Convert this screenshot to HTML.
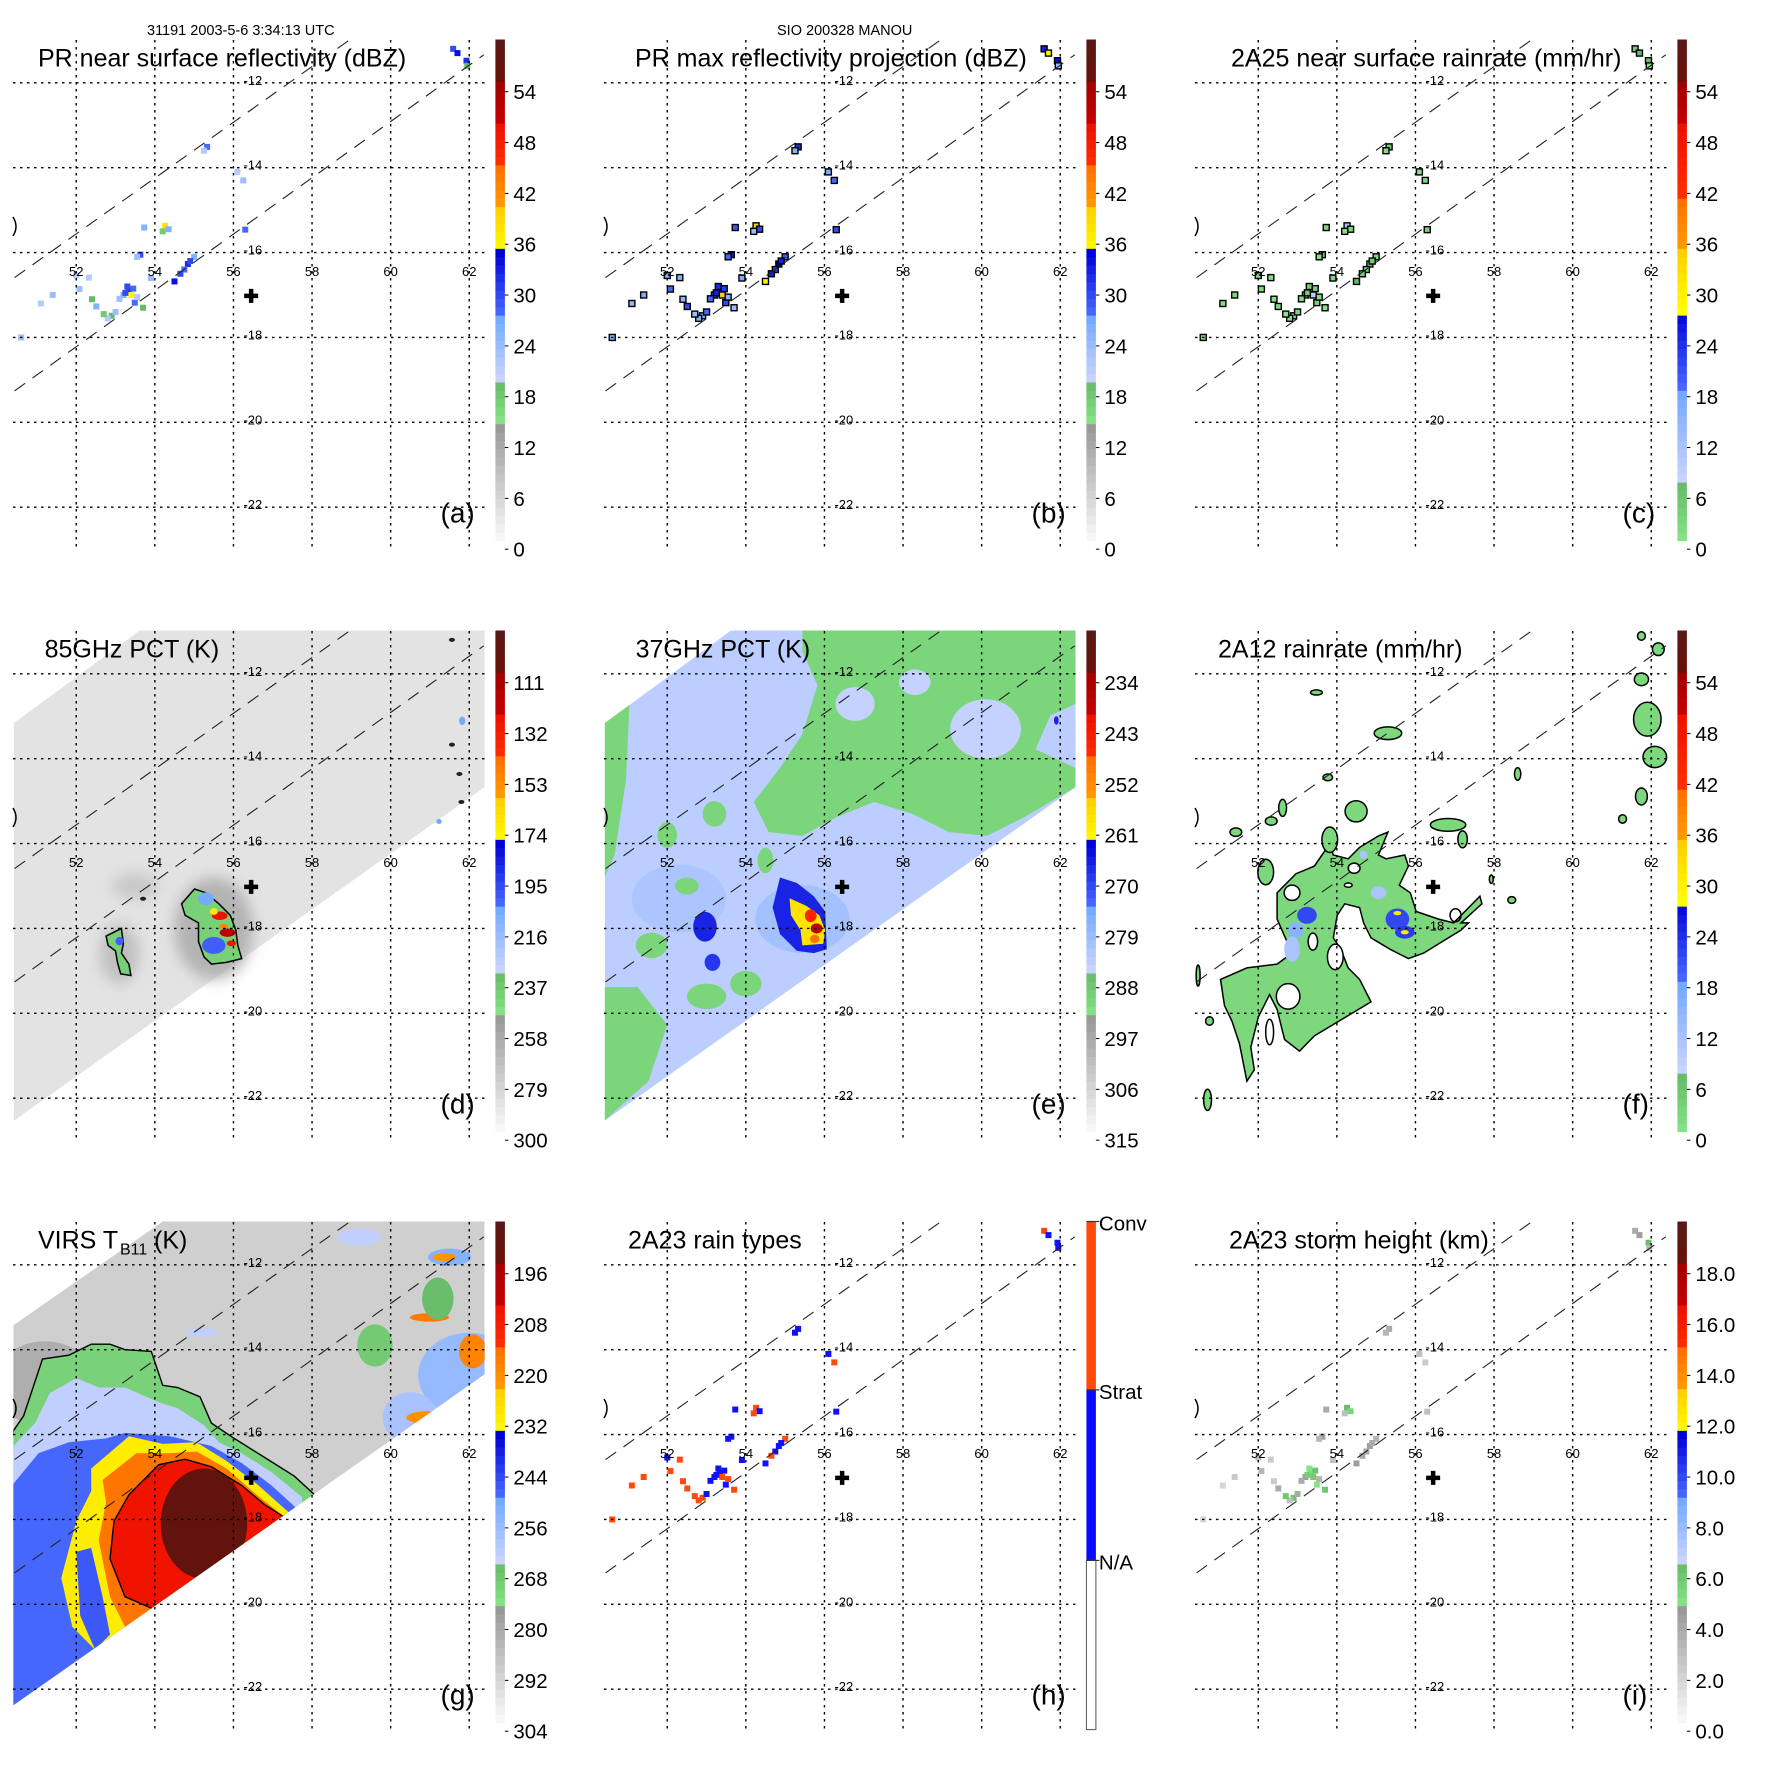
<!DOCTYPE html>
<html><head><meta charset="utf-8">
<style>
html,body{margin:0;padding:0;background:#fff}
svg{display:block}
text{font-family:"Liberation Sans",Arial,sans-serif;fill:#000}
</style></head>
<body>
<svg id="fig" width="1771" height="1771" viewBox="0 0 1771 1771" xmlns="http://www.w3.org/2000/svg">
<defs>
<filter id="blur6" x="-50%" y="-50%" width="200%" height="200%"><feGaussianBlur stdDeviation="7"/></filter>
</defs>
<rect x="0" y="0" width="1771" height="1771" fill="#fff"/>
<text x="147" y="35" font-size="14.5">31191 2003-5-6 3:34:13 UTC</text>
<text x="777" y="35" font-size="14.5">SIO 200328 MANOU</text>
</svg>
<script>
// ---------- axis data ----------
const lonTicks = [52, 54, 56, 58, 60, 62];
const latTicks = [-12, -14, -16, -18, -20, -22];
const cbDbz = ['0','6','12','18','24','30','36','42','48','54'];
const cb85 = ['300','279','258','237','216','195','174','153','132','111'];
const cb37 = ['315','306','297','288','279','270','261','252','243','234'];
const cbVirs = ['304','292','280','268','256','244','232','220','208','196'];
const cbRain = ['0','6','12','18','24','30','36','42','48','54'];
const cbHeight = ['0.0','2.0','4.0','6.0','8.0','10.0','12.0','14.0','16.0','18.0'];
const rainTypeLabels = ['Conv','Strat','N/A'];
const centerLon = 56.45, centerLat = -17.02;
const swathLine1 = [[50.43,-16.59],[58.97,-10.98]];
const swathLine2 = [[50.43,-19.26],[62.37,-11.34]];
// PR pixels
const prLon = [53.34,53.30,53.40,53.20,53.10,53.49,53.55,52.90,53.00,52.80,53.63,53.55,54.26,54.35,54.20,54.84,54.75,54.65,54.50,52.00,52.08,52.51,52.40,55.33,55.25,56.10,56.25,61.59,61.70,61.93,61.95,56.30,53.73,52.32,53.70,51.40,51.10,50.60,53.90,55.00,53.25,53.45,54.90,52.70];
const prLat = [-16.90,-16.80,-17.00,-17.00,-17.09,-17.18,-17.05,-17.49,-17.40,-17.55,-16.05,-16.10,-15.37,-15.45,-15.50,-16.27,-16.40,-16.50,-16.68,-16.54,-16.86,-17.27,-17.10,-13.51,-13.60,-14.10,-14.30,-11.20,-11.30,-11.48,-11.60,-15.46,-15.41,-16.59,-17.30,-17.00,-17.20,-18.00,-16.60,-16.10,-16.95,-16.85,-16.20,-17.45];
const prDbz = [32,30,36,26,24,28,22,20,24,22,30,24,38,26,18,32,28,30,34,22,24,26,20,28,22,22,24,30,34,32,20,28,26,22,20,24,22,24,24,26,30,28,30,18];
const prMax = [34,32,40,30,28,30,26,26,28,26,33,28,40,30,24,35,31,33,36,26,28,30,25,32,26,27,28,33,36,34,24,30,29,26,24,27,25,26,27,29,33,31,33,24];
const prRain = [6,5,10,3,2,4,2,1,3,2,5,2,12,3,1,6,4,5,8,2,3,3,1,4,2,2,3,5,8,6,1,4,3,2,1,3,2,3,3,3,5,4,5,1];
const prType = [2,2,1,2,2,2,1,1,2,1,2,2,1,2,1,2,2,1,2,2,1,1,1,2,2,2,1,1,2,2,2,2,2,1,1,1,1,1,2,1,2,2,2,1];
const prHeight = [5.5,5.0,6.0,4.5,4.0,5.0,3.5,6.2,4.0,3.0,4.5,3.5,6.5,5.5,3.0,4.5,4.0,4.0,4.5,3.0,3.5,4.0,2.5,4.0,3.5,3.0,2.5,4.0,4.5,6.5,3.5,3.0,4.0,2.5,6.1,2.5,2.0,2.0,3.0,3.5,5.8,6.2,4.0,6.1];
// 85 GHz PCT features
const tmi85Swath = [[50.41,-13.16],[53.62,-10.98],[62.39,-10.98],[62.39,-14.67],[50.41,-22.53]];
const tmi85Halo = [[55.5,-18.0,1.0,1.2,262],[53.1,-18.6,0.5,0.7,268],[53.5,-17.0,0.6,0.3,272]];
const tmi85Big = [[54.68,-17.42],[55.01,-17.07],[55.30,-17.16],[55.63,-17.42],[55.92,-17.69],[56.06,-18.04],[56.11,-18.40],[56.21,-18.71],[55.82,-18.80],[55.44,-18.84],[55.25,-18.67],[55.11,-18.31],[55.11,-17.87],[54.77,-17.69]];
const tmi85Small = [[52.76,-18.18],[53.15,-18.00],[53.20,-18.36],[53.15,-18.58],[53.34,-18.84],[53.39,-19.11],[53.13,-19.07],[53.05,-18.80],[53.00,-18.53],[52.81,-18.40]];
const tmi85Cells = [[55.3,-17.3,0.2,0.15,205],[55.5,-18.4,0.3,0.2,200],[55.65,-17.7,0.2,0.1,125],[55.85,-18.1,0.2,0.1,120],[55.5,-17.6,0.1,0.08,170],[55.75,-17.95,0.12,0.06,150],[55.95,-18.35,0.12,0.07,130],[53.1,-18.3,0.1,0.1,200],[61.82,-13.11,0.08,0.1,205],[61.23,-15.48,0.07,0.06,205]];
const tmi85Spots = [[61.56,-11.2],[61.56,-13.67],[61.75,-14.36],[61.8,-15.02],[53.7,-17.3]];
// 37 GHz PCT features
const tmi37Green = [[[55.44,-10.98],[62.39,-10.98],[62.39,-12.71],[61.75,-12.98],[61.37,-13.78],[62.39,-14.22],[62.39,-14.67],[61.08,-15.38],[60.13,-15.82],[59.17,-15.73],[58.21,-15.29],[57.26,-15.02],[56.30,-15.38],[55.44,-15.82],[54.58,-15.73],[54.20,-15.02],[54.87,-14.22],[55.44,-13.42],[55.82,-12.27],[55.44,-11.47]],
  [[50.40,-13.16],[51.04,-12.71],[50.95,-14.49],[50.66,-16.27],[50.40,-16.8]],
  [[50.40,-19.38],[51.24,-19.38],[52.0,-20.27],[51.52,-21.6],[50.40,-22.53]]];
const tmi37Patches = [[60.1,-13.3,0.9,0.7,284],[56.78,-12.71,0.5,0.4,284],[58.3,-12.2,0.4,0.3,284],[55.44,-17.78,1.2,0.8,280],[52.3,-17.3,1.2,0.8,281],[53.2,-15.3,0.3,0.3,290],[52.5,-17.0,0.3,0.2,290],[54.0,-19.3,0.4,0.3,290],[53.0,-19.6,0.5,0.3,290],[51.6,-18.4,0.4,0.3,290],[54.5,-16.4,0.2,0.3,290],[52.0,-15.8,0.25,0.3,290],[52.96,-17.96,0.3,0.35,266],[53.15,-18.8,0.2,0.2,268],[61.9,-13.1,0.06,0.1,266]];
const tmi37Core = [[54.87,-16.8],[55.30,-16.93],[55.73,-17.24],[56.02,-17.6],[56.06,-18.49],[55.73,-18.58],[55.30,-18.53],[54.87,-18.13],[54.68,-17.51]];
const tmi37Yellow = [[55.11,-17.29],[55.54,-17.47],[55.87,-17.69],[56.02,-18.04],[55.97,-18.36],[55.44,-18.4],[55.39,-18.04],[55.15,-17.69]];
const tmi37Hot = [[55.65,-17.7,0.15,0.15,245],[55.8,-18.0,0.15,0.12,238],[55.75,-18.25,0.12,0.1,248]];
// 2A12 rain
const rain12Main = [[51.04,-19.2],[51.71,-18.93],[52.48,-18.84],[52.86,-18.58],[52.48,-17.78],[52.48,-17.16],[52.96,-16.71],[53.43,-16.53],[53.82,-16.0],[53.91,-16.27],[54.29,-16.36],[54.58,-16.09],[55.06,-15.82],[55.30,-15.73],[55.06,-16.27],[55.25,-16.36],[55.73,-16.27],[55.82,-16.53],[55.59,-16.98],[55.87,-17.16],[56.02,-17.6],[56.59,-17.78],[56.97,-17.87],[57.64,-17.24],[57.69,-17.42],[57.16,-17.87],[57.35,-17.87],[57.16,-18.04],[56.68,-18.31],[56.21,-18.58],[55.82,-18.71],[55.35,-18.49],[54.87,-18.22],[54.68,-17.87],[54.58,-17.51],[54.2,-17.42],[54.01,-17.69],[53.91,-18.22],[54.1,-18.49],[54.29,-18.93],[54.58,-19.2],[54.87,-19.73],[53.43,-20.53],[53.05,-20.89],[52.67,-20.62],[52.48,-19.91],[52.29,-19.56],[52.0,-20.09],[51.81,-20.8],[51.9,-21.33],[51.71,-21.6],[51.52,-20.71],[51.33,-20.18],[51.14,-19.82]];
const rain12Holes = [[52.86,-17.16,0.2,0.18],[53.39,-18.31,0.12,0.2],[53.96,-18.67,0.2,0.3],[54.44,-16.58,0.15,0.12],[54.29,-16.98,0.1,0.05],[52.76,-19.6,0.3,0.3],[52.29,-20.44,0.1,0.3]];
const rain12Cells = [[53.24,-17.69,0.25,0.2,22],[52.96,-18.04,0.2,0.2,16],[52.86,-18.49,0.2,0.3,12],[55.54,-17.78,0.3,0.25,22],[55.73,-18.09,0.25,0.15,23],[55.06,-17.16,0.2,0.15,12],[54.68,-16.27,0.1,0.1,12],[55.54,-17.64,0.1,0.05,31],[55.73,-18.09,0.1,0.05,31],[61.9,-13.07,0.1,0.15,12]];
const rain12Blobs = [[55.30,-13.4,0.35,0.15],[54.49,-15.24,0.28,0.25],[53.82,-15.91,0.2,0.3],[52.19,-16.67,0.2,0.3],[56.83,-15.56,0.45,0.15],[57.2,-15.9,0.12,0.2],[61.9,-13.07,0.35,0.4],[61.75,-12.13,0.18,0.15],[61.75,-14.89,0.15,0.2],[62.09,-13.96,0.3,0.25],[62.18,-11.42,0.15,0.15],[61.75,-11.11,0.1,0.1],[58.45,-17.33,0.1,0.08],[57.93,-16.84,0.05,0.1],[52.62,-15.16,0.1,0.2],[52.33,-15.47,0.15,0.1],[53.77,-14.44,0.12,0.08],[58.6,-14.36,0.08,0.15],[61.27,-15.42,0.1,0.1],[50.47,-19.11,0.05,0.25],[50.76,-20.18,0.1,0.1],[50.71,-22.04,0.1,0.25],[53.48,-12.44,0.15,0.06],[51.43,-15.73,0.15,0.1]];
// VIRS features
const virsSwath = [[50.40,-13.42],[54.20,-10.98],[62.39,-10.98],[62.39,-14.58],[50.40,-22.38]];
const virsGreen = [[50.40,-15.91],[50.66,-15.56],[51.14,-14.22],[51.81,-14.13],[52.38,-13.87],[52.86,-13.87],[53.24,-14.0],[53.91,-14.04],[54.2,-14.84],[54.58,-14.89],[55.15,-15.11],[55.44,-15.73],[56.02,-16.09],[56.78,-16.53],[57.55,-16.98],[58.1,-17.45],[58.5,-25],[49,-25]];
const virsLightBlue = [[50.40,-16.27],[50.95,-15.73],[51.33,-15.02],[52.0,-14.67],[52.57,-14.89],[53.24,-14.89],[54.1,-15.24],[54.58,-15.38],[55.25,-15.78],[55.63,-16.18],[56.21,-16.44],[56.97,-16.89],[57.74,-17.47],[58.5,-25],[49,-25]];
const virsBlue = [[50.4,-17.16],[51.04,-16.44],[51.81,-16.18],[52.76,-16.09],[53.24,-15.96],[54.39,-16.04],[55.44,-16.27],[56.21,-16.67],[56.97,-17.2],[57.55,-17.69],[58.5,-25],[49,-25]];
const virsYellow = [[52.38,-16.8],[53.34,-16.04],[54.2,-16.22],[55.06,-16.18],[55.82,-16.62],[56.59,-17.16],[57.45,-17.87],[58,-25],[52.48,-25],[52.48,-21.07],[51.9,-20.53],[51.62,-19.38],[52.0,-18.04],[52.38,-17.33]];
const virsBlueStreak = [[52.0,-18.76],[52.38,-18.67],[52.67,-19.82],[52.86,-20.71],[52.48,-21.07],[52.1,-20.27]];
const virsOrange = [[52.67,-17.07],[53.53,-16.44],[54.39,-16.44],[55.06,-16.4],[55.82,-16.8],[56.59,-17.42],[57.26,-17.91],[58,-25],[53.24,-25],[53.24,-20.53],[52.86,-19.82],[52.57,-18.49],[52.76,-17.6]];
const virsRed = [[52.96,-18.04],[53.34,-17.42],[54.1,-16.71],[54.77,-16.58],[55.44,-16.76],[56.21,-17.2],[56.78,-17.64],[57.31,-17.96],[58,-25],[53.91,-25],[53.91,-20.09],[53.24,-19.82],[52.86,-18.93]];
const virsCore = [55.25,-18.1,1.1,1.3,190];
const virsPatches = [[51.2,-14.8,1.3,1.0,281],[62.0,-14.6,1.3,1.0,255],[60.5,-15.6,0.7,0.6,258],[62.09,-14.04,0.35,0.4,218],[60.99,-13.24,0.5,0.1,216],[61.5,-11.82,0.55,0.2,252],[61.37,-11.82,0.3,0.1,222],[60.9,-15.6,0.5,0.15,220],[59.6,-13.9,0.45,0.5,268],[59.2,-11.35,0.55,0.2,262],[55.2,-13.6,0.4,0.1,262],[51.5,-16.8,0.45,0.3,226],[61.2,-12.8,0.4,0.5,265]];

// ---------- palettes (styles) ----------
const palA = [[0,0.235,'#fbfbfb','#959595'],[0.235,0.322,'#86e486','#66b866'],[0.322,0.45,'#ccd4ff','#6fa8ff'],[0.45,0.575,'#4a6cff','#0000d8'],[0.575,0.661,'#ffff00','#ffd000'],[0.661,0.744,'#ffa000','#ff7000'],[0.744,0.829,'#ff3000','#ee1000'],[0.829,0.916,'#c80000','#a00000'],[0.916,1.01,'#6a1008','#551a18']];
const palC = [[0,0.119,'#86e486','#66b866'],[0.119,0.3,'#ccd4ff','#6fa8ff'],[0.3,0.458,'#4a6cff','#0000d8'],[0.458,0.575,'#ffff00','#ffd000'],[0.575,0.68,'#ffa000','#ff7000'],[0.68,0.83,'#ff3000','#ee1000'],[0.83,0.913,'#c80000','#a00000'],[0.913,1.01,'#6a1008','#551a18']];

const NS = 'http://www.w3.org/2000/svg';
const svg = document.getElementById('fig');
const X = lon => 76.25 + (lon - 52) * 39.3;
const Y = lat => 82.8 + (-12 - lat) * 42.44;
const CB_X = 495.4;
const CB_BOT = 540.5, CB_TOP = 39.5, CB_H = CB_BOT - CB_TOP;
const labelY = i => 549.2 - i * 50.83;

function hex2rgb(h){return [parseInt(h.slice(1,3),16),parseInt(h.slice(3,5),16),parseInt(h.slice(5,7),16)];}
function colorAt(pal, f){
  f = Math.max(0, Math.min(1, f));
  for (const b of pal){
    if (f >= b[0] && f <= b[1]){
      const t = (f - b[0]) / (b[1] - b[0]);
      const a = hex2rgb(b[2]), c = hex2rgb(b[3]);
      return 'rgb(' + a.map((v,k)=>Math.round(v + (c[k]-v)*t)).join(',') + ')';
    }
  }
  return pal[pal.length-1][3];
}
function el(tag, attrs, parent){
  const e = document.createElementNS(NS, tag);
  for (const k in attrs) e.setAttribute(k, attrs[k]);
  (parent || svg).appendChild(e);
  return e;
}
function pts(list){return list.map(p => X(p[0]).toFixed(1) + ',' + Y(p[1]).toFixed(1)).join(' ');}

const panels = [
  {key:'a', col:0, row:0, title:'PR near surface reflectivity (dBZ)', tx:38, pal:palA, labels:cbDbz, v0:0, dv:6},
  {key:'b', col:1, row:0, title:'PR max reflectivity projection (dBZ)', tx:44, pal:palA, labels:cbDbz, v0:0, dv:6},
  {key:'c', col:2, row:0, title:'2A25 near surface rainrate (mm/hr)', tx:49, pal:palC, labels:cbRain, v0:0, dv:6},
  {key:'d', col:0, row:1, title:'85GHz PCT (K)', tx:44.6, pal:palA, labels:cb85, v0:300, dv:-21},
  {key:'e', col:1, row:1, title:'37GHz PCT (K)', tx:44.6, pal:palA, labels:cb37, v0:315, dv:-9},
  {key:'f', col:2, row:1, title:'2A12 rainrate (mm/hr)', tx:36, pal:palC, labels:cbRain, v0:0, dv:6},
  {key:'g', col:0, row:2, title:'VIRS', tx:38, pal:palA, labels:cbVirs, v0:304, dv:-12},
  {key:'h', col:1, row:2, title:'2A23 rain types', tx:37, pal:null, labels:rainTypeLabels},
  {key:'i', col:2, row:2, title:'2A23 storm height (km)', tx:47, pal:palA, labels:cbHeight, v0:0, dv:2}
];

function valColor(p, v){
  const i = (v - p.v0) / p.dv;
  const y = labelY(i);
  return colorAt(p.pal, (CB_BOT - y) / CB_H);
}

const defs = svg.querySelector('defs');

panels.forEach(p => {
  const g = el('g', {transform:'translate(' + (p.col*591) + ',' + (p.row*591) + ')'});
  
  

  const cp = el('clipPath', {id:'plot-' + p.key}, defs);
  el('rect', {x:12.5, y:39.5, width:474, height:511}, cp);
  const plot = el('g', {'clip-path':'url(#plot-' + p.key + ')'}, g);
  
  

  const col = v => valColor(p, v);
  const ell = (e, parent, extra) => {
    const o = el('ellipse', Object.assign({cx:X(e[0]), cy:Y(e[1]), rx:e[2]*39.3, ry:e[3]*42.44}, extra||{}), parent);
    return o;
  };

  if (p.key === 'a' || p.key === 'b' || p.key === 'c' || p.key === 'h' || p.key === 'i'){
    prLon.forEach((lon, k) => {
      let fill, stroke = 'none';
      if (p.key === 'a') fill = col(prDbz[k]);
      if (p.key === 'b') { fill = col(prMax[k]); stroke = '#000'; }
      if (p.key === 'c') { fill = col(prRain[k]); stroke = '#000'; }
      if (p.key === 'h') fill = prType[k] === 1 ? '#ff4a0a' : '#1010ff';
      if (p.key === 'i') fill = col(prHeight[k]);
      const r = el('rect', {x:X(lon)-3, y:Y(prLat[k])-3, width:6, height:6, fill:fill, stroke:stroke, 'stroke-width':1.4}, plot);
      
      
    });
  }

  if (p.key === 'd'){
    const sw = el('polygon', {points:pts(tmi85Swath), fill:col(285)}, plot);
    
    
    tmi85Halo.forEach(h => { const o = ell(h, plot, {fill:col(h[4]), filter:'url(#blur6)'});   });
    [tmi85Big, tmi85Small].forEach(poly => {
      const o = el('polygon', {points:pts(poly), fill:col(240), stroke:'#000', 'stroke-width':1.5}, plot);
      
      
    });
    tmi85Cells.forEach(c => { const o = ell(c, plot, {fill:col(c[4])});   });
    tmi85Spots.forEach(s => { const o = el('ellipse', {cx:X(s[0]), cy:Y(s[1]), rx:3, ry:2, fill:'#222'}, plot);   });
  }

  if (p.key === 'e'){
    const cs = el('clipPath', {id:'sw-e'}, defs);
    el('polygon', {points:pts(tmi85Swath)}, cs);
    const sg = el('g', {'clip-path':'url(#sw-e)'}, plot);
    
    
    el('polygon', {points:pts(tmi85Swath), fill:col(283)}, sg);
    tmi37Green.forEach(poly => { const o = el('polygon', {points:pts(poly), fill:col(290)}, sg);   });
    tmi37Patches.forEach(c => { const o = ell(c, sg, {fill:col(c[4])});   });
    const core = el('polygon', {points:pts(tmi37Core), fill:col(266)}, sg);
    
    
    const yc = el('polygon', {points:pts(tmi37Yellow), fill:col(258)}, sg);
    
    
    tmi37Hot.forEach(c => { const o = ell(c, sg, {fill:col(c[4])});   });
  }

  if (p.key === 'f'){
    const m = el('polygon', {points:pts(rain12Main), fill:col(3), stroke:'#000', 'stroke-width':1.5}, plot);
    
    
    rain12Holes.forEach(h => { const o = ell(h, plot, {fill:'#fff', stroke:'#000', 'stroke-width':1.5});   });
    rain12Cells.forEach(c => { const o = ell(c, plot, {fill:col(c[4])});   });
    rain12Blobs.forEach(b => { const o = ell(b, plot, {fill:col(3), stroke:'#000', 'stroke-width':1.5});   });
    const ring = el('ellipse', {cx:X(57.02), cy:Y(-17.69), rx:5.5, ry:6.5, fill:'none', stroke:'#000', 'stroke-width':1.5}, plot);
    
    
  }

  if (p.key === 'g'){
    const cs = el('clipPath', {id:'sw-g'}, defs);
    el('polygon', {points:pts(virsSwath)}, cs);
    const sg = el('g', {'clip-path':'url(#sw-g)'}, plot);
    
    
    el('polygon', {points:pts(virsSwath), fill:col(290)}, sg);
    virsPatches.forEach(c => { const o = ell(c, sg, {fill:col(c[4])});   });
    const layers = [[virsGreen,270,'#000'],[virsLightBlue,262,'none'],[virsBlue,248,'none'],[virsYellow,230,'none'],[virsBlueStreak,246,'none'],[virsOrange,215,'none'],[virsRed,205,'#000']];
    layers.forEach(L => {
      const o = el('polygon', {points:pts(L[0]), fill:col(L[1]), stroke:L[2], 'stroke-width':1.4}, sg);
      
      
    });
    const c = ell(virsCore, sg, {fill:col(virsCore[4])});
    
    
  }

  // grid
  const grid = el('g', {stroke:'#000', 'stroke-width':1.4, 'stroke-dasharray':'2.5,4.5'}, g);
  
  
  latTicks.forEach(lat => el('line', {x1:13, x2:486, y1:Y(lat), y2:Y(lat)}, grid));
  lonTicks.forEach(lon => el('line', {x1:X(lon), x2:X(lon), y1:40, y2:549.5}, grid));
  // swath lines
  [swathLine1, swathLine2].forEach(L => {
    const o = el('line', {x1:X(L[0][0]), y1:Y(L[0][1]), x2:X(L[1][0]), y2:Y(L[1][1]), stroke:'#222', 'stroke-width':1.1, 'stroke-dasharray':'13,9'}, g);
    
    
  });
  lonTicks.forEach(lon => {
    const t = el('text', {x:X(lon), y:276, 'font-size':13, 'text-anchor':'middle'}, g);
    t.textContent = lon;
    
    
  });
  latTicks.forEach(lat => {
    const t = el('text', {x:X(56)+10, y:Y(lat)+2, 'font-size':13}, g);
    t.textContent = lat;
    
    
  });
  const coast = el('path', {d:'M13,217 Q19,226.5 13,236', fill:'none', stroke:'#000', 'stroke-width':1.5}, g);
  
  
  const cx = X(centerLon), cy = Y(centerLat);
  const cross = el('path', {d:'M'+(cx-7)+','+cy+' h14 M'+cx+','+(cy-7)+' v14', stroke:'#000', 'stroke-width':4.5}, g);
  
  

  // title
  if (p.key === 'g'){
    const t = el('text', {x:38, y:66.5, 'font-size':25}, g);
    t.textContent = 'VIRS T';
    
    
    const s = el('text', {x:120, y:72.5, 'font-size':16}, g);
    s.textContent = 'B11';
    
    
    const k = el('text', {x:154, y:66.5, 'font-size':25}, g);
    k.textContent = '(K)';
    
    
  } else {
    const t = el('text', {x:p.tx, y:66.5, 'font-size':25}, g);
    t.textContent = p.title;
    
    
  }
  const lab = el('text', {x:440.5, y:522.5, 'font-size':28}, g);
  lab.textContent = '(' + p.key + ')';
  
  

  // colorbar
  const cb = el('g', {}, g);
  
  
  if (p.pal){
    const n = 60;
    for (let k = 0; k < n; k++){
      el('rect', {x:CB_X, y:CB_BOT - (k+1)*CB_H/n, width:9.5, height:CB_H/n + 0.6, fill:colorAt(p.pal, (k+0.5)/n)}, cb);
    }
    p.labels.forEach((s, i) => {
      const y = labelY(i);
      el('line', {x1:CB_X+9.5, x2:CB_X+13, y1:y, y2:y, stroke:'#000', 'stroke-width':1}, cb);
      const t = el('text', {x:CB_X+18, y:y+7.5, 'font-size':20.5}, cb);
      t.textContent = s;
      
      
    });
  } else {
    const b1 = 39.5, b2 = 207.9, b3 = 378.4, b4 = 547.6;
    el('rect', {x:CB_X, y:b1, width:9.5, height:b2-b1, fill:'#ff4a0a'}, cb);
    el('rect', {x:CB_X, y:b2, width:9.5, height:b3-b2, fill:'#0a0aff'}, cb);
    el('rect', {x:CB_X, y:b3, width:9.5, height:b4-b3, fill:'#fff', stroke:'#555', 'stroke-width':1}, cb);
    [b1, b2, b3].forEach((y, i) => {
      el('line', {x1:CB_X, x2:CB_X+13, y1:y, y2:y, stroke:'#333', 'stroke-width':1.2}, cb);
      const t = el('text', {x:CB_X+12.5, y:y+9, 'font-size':20.5}, cb);
      t.textContent = rainTypeLabels[i];
      
      
    });
  }
});
</script>
</body></html>
